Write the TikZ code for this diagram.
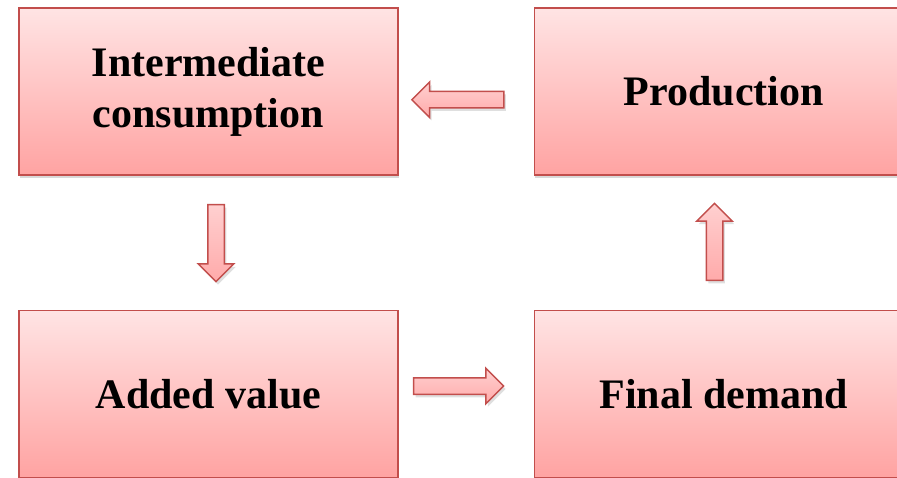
\documentclass[tikz,border=0pt]{standalone}
\usepackage{fontspec}
\setmainfont{Liberation Serif}
\usetikzlibrary{positioning,shapes.arrows,shadows}

\definecolor{boxtop}{HTML}{FFE4E4}
\definecolor{boxbot}{HTML}{FFA3A2}
\definecolor{boxline}{HTML}{C24E4C}
\definecolor{arrtop}{HTML}{FFD0D0}
\definecolor{arrbot}{HTML}{FFAAAA}

\begin{document}
\begin{tikzpicture}[x=1pt, y=1pt,
    flowbox/.style={rectangle, draw=boxline, line width=1.3pt,
        top color=boxtop, bottom color=boxbot,
        minimum width=379pt, minimum height=167pt, align=center,
        font=\fontsize{42}{51}\selectfont\bfseries,
        drop shadow={shadow xshift=0.5pt, shadow yshift=-3pt, opacity=0.3}},
    blockarrow/.style={single arrow, draw=boxline, line width=1.5pt,
        top color=arrtop, bottom color=arrbot,
        inner sep=7.5pt, single arrow head extend=9.5pt,
        drop shadow={shadow xshift=2pt, shadow yshift=-3pt, opacity=0.25}}]

        % 枠
        \useasboundingbox (0,0) rectangle (897,477);
        \clip (0,0) rectangle (897,477);

        % 四つの箱
        \node[flowbox] (inter) at (208.5,385.5) {Intermediate\\consumption};
        \node[flowbox, right=135pt of inter] (prod) {Production};
        \node[flowbox, below=134pt of inter] (added) {Added value};
        \node[flowbox, below=134pt of prod] (final) {Final demand};

        % 箱の間の矢印
        \node[blockarrow, minimum height=92pt, shape border rotate=180] (tointer) at (462,377.3) {};
        \node[blockarrow, minimum height=77pt, shape border rotate=270] (toadded) at (216,238) {};
        \node[blockarrow, minimum height=90pt] (tofinal) at (454.5,91) {};
        \node[blockarrow, minimum height=77pt, shape border rotate=90] (toprod) at (714.5,231) {};

    \end{tikzpicture}
\end{document}
